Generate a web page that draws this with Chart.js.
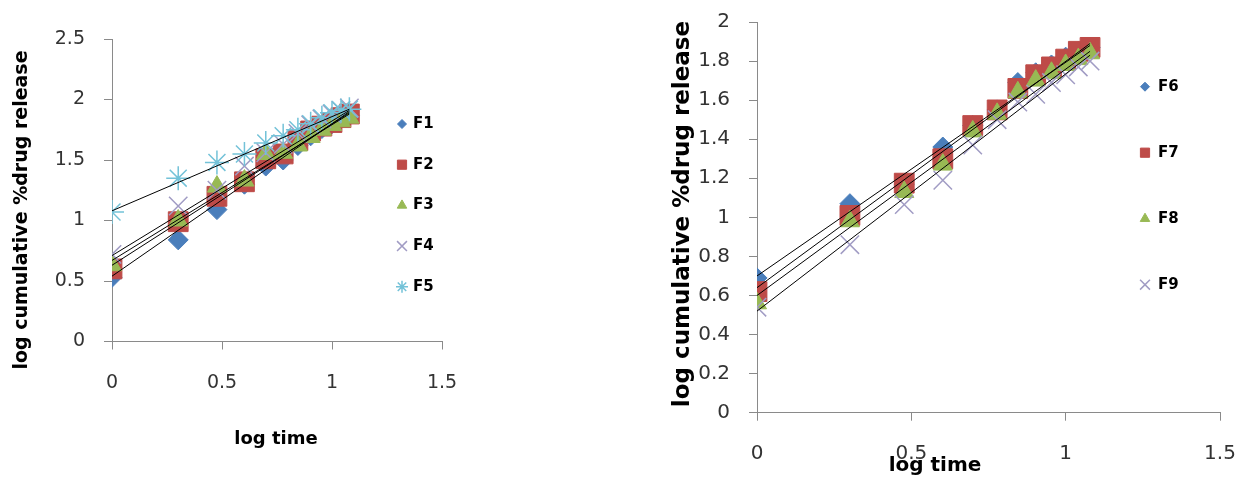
<!DOCTYPE html>
<html lang="en">
<head>
<meta charset="UTF-8">
<title>log cumulative %drug release vs log time</title>
<script src="https://cdn.jsdelivr.net/npm/chart.js"></script>
<style>
  body { margin: 0; background: #fff; width: 1245px; height: 481px; overflow: hidden; position: relative; }
  canvas { position: absolute; top: 0; }
  #left { left: 0; }
  #right { left: 660px; }
</style>
</head>
<body>
<canvas id="left" width="480" height="470"></canvas>
<canvas id="right" width="585" height="481"></canvas>
<script>
// x values: log of sampling time (1..12 h)
const logTime = [0, 0.301, 0.477, 0.602, 0.699, 0.778, 0.845, 0.903, 0.954, 1.0, 1.041, 1.079];

// left plot, F1 - F5
const leftNames = ['F1', 'F2', 'F3', 'F4', 'F5'];
const f1 = [0.53, 0.84, 1.09, 1.30, 1.45, 1.50, 1.62, 1.70, 1.76, 1.80, 1.84, 1.87];
const f2 = [0.60, 0.99, 1.20, 1.32, 1.51, 1.55, 1.66, 1.74, 1.78, 1.81, 1.85, 1.88];
const f3 = [0.63, 1.00, 1.28, 1.33, 1.55, 1.56, 1.62, 1.69, 1.75, 1.79, 1.82, 1.85];
const f4 = [0.72, 1.12, 1.25, 1.45, 1.56, 1.63, 1.72, 1.79, 1.84, 1.88, 1.91, 1.93];
const f5 = [1.07, 1.35, 1.48, 1.55, 1.64, 1.70, 1.75, 1.80, 1.85, 1.89, 1.91, 1.92];
// linear trendlines as drawn in the picture: [value at first time, value at last time]
const leftTrend = [[0.54, 1.90], [0.63, 1.89], [0.67, 1.88], [0.71, 1.91], [1.08, 1.92]];
const leftXTicks = ['0', '0.5', '1', '1.5'];
const leftYTicks = ['0', '0.5', '1', '1.5', '2', '2.5'];

// right plot, F6 - F9
const rightNames = ['F6', 'F7', 'F8', 'F9'];
const f6 = [0.69, 1.07, 1.17, 1.36, 1.47, 1.55, 1.69, 1.74, 1.78, 1.82, 1.85, 1.87];
const f7 = [0.62, 1.01, 1.175, 1.30, 1.47, 1.55, 1.66, 1.73, 1.77, 1.81, 1.85, 1.87];
const f8 = [0.56, 0.98, 1.13, 1.27, 1.44, 1.53, 1.64, 1.70, 1.74, 1.78, 1.81, 1.84];
const f9 = [0.54, 0.86, 1.065, 1.19, 1.37, 1.50, 1.59, 1.63, 1.69, 1.73, 1.77, 1.80];
const rightTrend = [[0.70, 1.88], [0.64, 1.89], [0.60, 1.85], [0.52, 1.83]];
const rightXTicks = ['0', '0.5', '1', '1.5'];
const rightYTicks = ['0', '0.2', '0.4', '0.6', '0.8', '1', '1.2', '1.4', '1.6', '1.8', '2'];

const yTitle = 'log cumulative %drug release';
const xTitle = 'log time';

// marker looks per series (Excel defaults)
const markers = [
  { pointStyle: 'rectRot', color: '#4A7EBB', radius: 10, legendRadius: 4.5, width: 1 },
  { pointStyle: 'rect', color: '#BE4B48', radius: 14, legendRadius: 6.5, width: 1 },
  { pointStyle: 'triangle', color: '#98B954', radius: 11, legendRadius: 5.5, width: 1 },
  { pointStyle: 'crossRot', color: '#A19CC4', radius: 13, legendRadius: 7, width: 1.5 },
  { pointStyle: 'star', color: '#73C2D8', radius: 12, legendRadius: 6, width: 1.5 }
];

Chart.defaults.font.family = 'DejaVu Sans';
Chart.defaults.color = '#333';

function makeDatasets(names, series, trend) {
  const sets = [];
  names.forEach((name, i) => {
    const m = markers[i];
    sets.push({
      label: name,
      data: logTime.map((t, k) => ({ x: t, y: series[i][k] })),
      showLine: false,
      pointStyle: m.pointStyle,
      pointRadius: m.radius,
      backgroundColor: m.color,
      borderColor: m.color,
      pointBorderWidth: m.width,
      legendIndex: i,
      legendRadius: m.legendRadius,
      order: 50 - i
    });
  });
  trend.forEach(tr => {
    sets.push({
      data: [{ x: logTime[0], y: tr[0] }, { x: logTime[logTime.length - 1], y: tr[1] }],
      showLine: true,
      borderColor: '#000',
      borderWidth: 1,
      pointRadius: 0,
      order: 0
    });
  });
  return sets;
}

// legend and axis titles, drawn where the picture has them
const sideText = {
  id: 'sideText',
  afterDraw(chart, args, opts) {
    const ctx = chart.ctx;
    ctx.save();
    const lg = opts.legend;
    chart.data.datasets.forEach(ds => {
      if (ds.legendIndex === undefined) return;
      const y = lg.y + ds.legendIndex * lg.step;
      ctx.fillStyle = ds.backgroundColor;
      ctx.strokeStyle = ds.borderColor;
      ctx.lineWidth = ds.pointBorderWidth;
      Chart.helpers.drawPoint(ctx, {
        pointStyle: ds.pointStyle, radius: ds.legendRadius, rotation: 0, borderWidth: ds.pointBorderWidth
      }, lg.x, y);
      ctx.fillStyle = '#000';
      ctx.font = lg.font;
      ctx.textAlign = 'left';
      ctx.textBaseline = 'middle';
      ctx.fillText(ds.label, lg.x + lg.gap, y);
    });
    opts.titles.forEach(t => {
      ctx.save();
      ctx.translate(t.x, t.y);
      ctx.rotate(t.rotate || 0);
      ctx.font = t.font;
      ctx.fillStyle = '#000';
      ctx.textAlign = 'center';
      ctx.textBaseline = 'middle';
      ctx.fillText(t.text, 0, 0);
      ctx.restore();
    });
    ctx.restore();
  }
};

function axisGrid() {
  return { drawOnChartArea: false, tickLength: 8, color: '#8a8a8a' };
}

// fixed axis boxes so the plot area sits where the picture has it
function fixX(h) {
  return s => { s.height = h; s.paddingLeft = 0; s.paddingRight = 0; };
}
function fixY(w) {
  return s => { s.width = w; s.paddingTop = 0; s.paddingBottom = 0; };
}

new Chart(document.getElementById('left'), {
  type: 'scatter',
  data: { datasets: makeDatasets(leftNames, [f1, f2, f3, f4, f5], leftTrend) },
  options: {
    responsive: false,
    animation: false,
    devicePixelRatio: 1,
    events: [],
    layout: { padding: { top: 39, right: 38, bottom: 0, left: 0 } },
    scales: {
      x: {
        type: 'linear', min: 0, max: 1.5,
        ticks: { stepSize: 0.5, font: { size: 19 }, padding: 22, callback: (v, i) => leftXTicks[i] },
        grid: axisGrid(),
        border: { color: '#8a8a8a' },
        afterFit: fixX(470 - 341.5)
      },
      y: {
        type: 'linear', min: 0, max: 2.5,
        ticks: { stepSize: 0.5, font: { size: 19 }, padding: 19, callback: (v, i) => leftYTicks[i] },
        grid: axisGrid(),
        border: { color: '#8a8a8a' },
        afterFit: fixY(112)
      }
    },
    plugins: {
      legend: { display: false },
      tooltip: { enabled: false },
      sideText: {
        legend: { x: 402, y: 124, step: 40.7, gap: 11, font: 'bold 15px "DejaVu Sans"' },
        titles: [
          { text: yTitle, x: 22, y: 210, rotate: -Math.PI / 2, font: 'bold 19px "DejaVu Sans"' },
          { text: xTitle, x: 276, y: 439, font: 'bold 18px "DejaVu Sans"' }
        ]
      }
    }
  },
  plugins: [sideText]
});

new Chart(document.getElementById('right'), {
  type: 'scatter',
  data: { datasets: makeDatasets(rightNames, [f6, f7, f8, f9], rightTrend) },
  options: {
    responsive: false,
    animation: false,
    devicePixelRatio: 1,
    events: [],
    layout: { padding: { top: 22, right: 25, bottom: 0, left: 0 } },
    scales: {
      x: {
        type: 'linear', min: 0, max: 1.5,
        ticks: { stepSize: 0.5, font: { size: 20 }, padding: 21, callback: (v, i) => rightXTicks[i] },
        grid: axisGrid(),
        border: { color: '#8a8a8a' },
        afterFit: fixX(481 - 412.7)
      },
      y: {
        type: 'linear', min: 0, max: 2,
        ticks: { stepSize: 0.2, font: { size: 20 }, padding: 19, callback: (v, i) => rightYTicks[i] },
        grid: axisGrid(),
        border: { color: '#8a8a8a' },
        afterFit: fixY(97)
      }
    },
    plugins: {
      legend: { display: false },
      tooltip: { enabled: false },
      sideText: {
        legend: { x: 485, y: 86.7, step: 66, gap: 13, font: 'bold 15px "DejaVu Sans"' },
        titles: [
          { text: yTitle, x: 23, y: 214, rotate: -Math.PI / 2, font: 'bold 23px "DejaVu Sans"' },
          { text: xTitle, x: 275, y: 466, font: 'bold 20px "DejaVu Sans"' }
        ]
      }
    }
  },
  plugins: [sideText]
});
</script>
</body>
</html>
